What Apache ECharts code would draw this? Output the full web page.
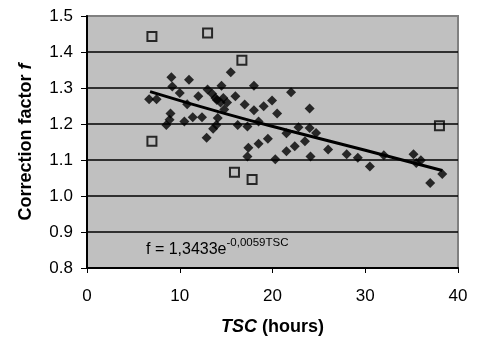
<!DOCTYPE html>
<html>
<head>
<meta charset="utf-8">
<script src="https://cdn.jsdelivr.net/npm/echarts@6/dist/echarts.min.js"></script>
<style>
html,body{margin:0;padding:0;background:#fff;}
#c{width:485px;height:341px;}
</style>
</head>
<body>
<div id="c"></div>
<script>
// Included measurements (filled diamonds): [TSC hours, correction factor f]
const includedPoints = [
  [6.7,1.269],[7.5,1.269],[9.1,1.330],[9.2,1.304],[10.0,1.286],[11.0,1.323],[10.8,1.255],
  [12.0,1.277],[13.0,1.296],[13.5,1.284],[14.0,1.267],[13.85,1.272],[14.5,1.306],[14.7,1.272],
  [15.5,1.344],[16.0,1.277],[14.4,1.260],[15.1,1.260],[17.0,1.254],[18.0,1.306],[18.0,1.238],
  [19.05,1.249],[19.95,1.265],[20.5,1.229],[22.0,1.288],[24.0,1.243],
  [9.0,1.229],[8.9,1.212],[8.55,1.197],[10.5,1.207],[11.4,1.219],[12.4,1.219],[12.9,1.162],
  [13.6,1.187],[13.95,1.197],[14.8,1.240],[14.1,1.217],[16.25,1.197],[17.3,1.193],[18.5,1.207],
  [17.4,1.134],[17.3,1.110],[18.5,1.145],[19.5,1.159],[20.3,1.102],[21.5,1.124],[21.5,1.174],
  [22.4,1.138],[22.8,1.191],[23.5,1.152],[24.0,1.189],[24.7,1.175],[24.1,1.110],[26.0,1.129],
  [28.0,1.116],[29.2,1.106],[30.5,1.082],[32.0,1.113],[35.2,1.116],[35.5,1.092],[36.0,1.099],
  [37.0,1.036],[38.3,1.061]
];
// Excluded measurements (open squares)
const excludedPoints = [
  [7.0,1.443],[13.0,1.453],[16.7,1.377],[7.0,1.152],[38.0,1.195],[15.9,1.066],[17.8,1.046]
];
// Trend line
const trendPoints = [[6.8,1.290],[15,1.228],[22,1.180],[30,1.127],[38.3,1.071]];
// Axis ticks
const xTicks = [0,10,20,30,40];
const yTicks = [0.8,0.9,1.0,1.1,1.2,1.3,1.4,1.5];
const equationMain = 'f = 1,3433e';
const equationSup = '-0,0059TSC';

const FONT = '"Liberation Sans", Arial, sans-serif';
const chart = echarts.init(document.getElementById('c'), null, {renderer:'canvas'});
const gridColors = yTicks.map((t,i)=> i===yTicks.length-1 ? '#808080' : '#000000');

chart.setOption({
  backgroundColor:'#ffffff',
  animation:false,
  grid:{left:87,right:27,top:16,bottom:73,show:true,backgroundColor:'#c0c0c0',borderColor:'#808080',borderWidth:2},
  xAxis:{
    type:'value',min:xTicks[0],max:xTicks[xTicks.length-1],interval:10,
    name:'{i|TSC} (hours)',nameLocation:'middle',nameGap:50,
    nameTextStyle:{fontFamily:FONT,fontSize:18,fontWeight:'bold',color:'#000',
      rich:{i:{fontFamily:FONT,fontSize:18,fontWeight:'bold',fontStyle:'italic',color:'#000'}}},
    axisLine:{show:true,onZero:false,lineStyle:{color:'#000',width:2}},
    axisTick:{show:true,inside:false,length:5,lineStyle:{color:'#000',width:1}},
    axisLabel:{fontFamily:FONT,fontSize:17,color:'#000',margin:20},
    splitLine:{show:false}
  },
  yAxis:{
    type:'value',min:0.8,max:1.5,interval:0.1,
    name:'Correction factor {i|f}',nameLocation:'middle',nameGap:52,
    nameTextStyle:{fontFamily:FONT,fontSize:18,fontWeight:'bold',color:'#000',
      rich:{i:{fontFamily:FONT,fontSize:18,fontWeight:'bold',fontStyle:'italic',color:'#000'}}},
    axisLine:{show:true,onZero:false,lineStyle:{color:'#000',width:2}},
    axisTick:{show:true,inside:false,length:6,lineStyle:{color:'#000',width:1}},
    axisLabel:{fontFamily:FONT,fontSize:17,color:'#000',margin:14,formatter:v=>v.toFixed(1)},
    splitLine:{show:true,lineStyle:{color:gridColors,width:1.5}}
  },
  graphic:[{
    type:'text',left:146,top:237,silent:true,
    style:{
      text:'{a|'+equationMain+'}{b|'+equationSup+'}',
      rich:{
        a:{fontFamily:FONT,fontSize:16,color:'#000',verticalAlign:'bottom',lineHeight:21},
        b:{fontFamily:FONT,fontSize:11.5,color:'#000',verticalAlign:'top',lineHeight:11}
      }
    }
  }],
  series:[
    {type:'scatter',data:includedPoints,symbol:'diamond',symbolSize:10,
      itemStyle:{color:'#000'},z:2},
    {type:'line',data:trendPoints,showSymbol:false,symbol:'none',smooth:true,
      lineStyle:{color:'#000',width:3},z:3},
    {type:'scatter',data:excludedPoints,symbol:'rect',symbolSize:9,
      itemStyle:{color:'rgba(0,0,0,0)',borderColor:'#000',borderWidth:2},z:4}
  ]
});
</script>
</body>
</html>
